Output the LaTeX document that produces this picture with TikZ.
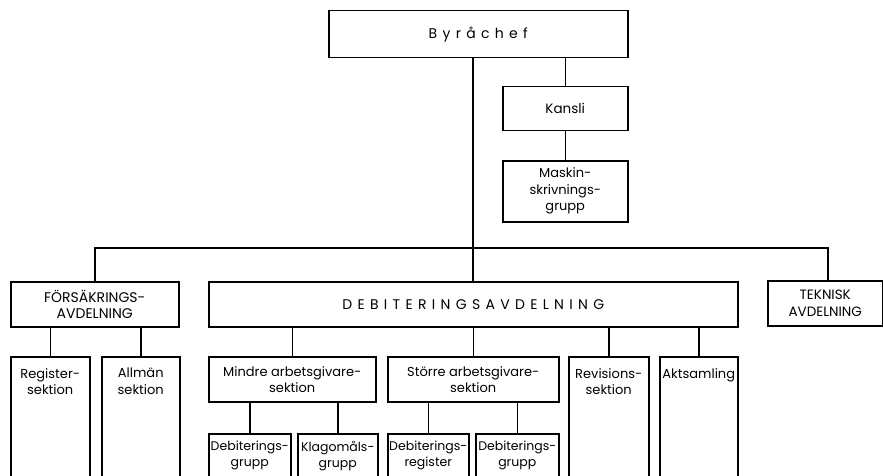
\documentclass[tikz,border=0pt]{standalone}
\usepackage{fontspec}
\setmainfont{Poppins}
\newfontfamily\spaced[LetterSpace=38]{Poppins}
\usetikzlibrary{calc}
\begin{document}
\begin{tikzpicture}[x=1pt,y=-1pt,
  box/.style={draw, line width=1.5pt, inner sep=0pt, align=center, anchor=north west,
    font=\fontsize{13}{16}\selectfont},
  toptext/.style={anchor=north, align=center, inner sep=0pt, font=\fontsize{13}{16.5}\selectfont},
  wire/.style={line width=1.5pt}]
\useasboundingbox (0,0) rectangle (883,476);
\clip (0,0) rectangle (883,476);
% top
\node[box, minimum width=299pt, minimum height=47pt, font=\fontsize{14}{16}\selectfont] (chef) at (328,10) {\spaced Byråchef};
\node[box, minimum width=125pt, minimum height=44pt, font=\fontsize{13.5}{16}\selectfont] (kansli) at (502,86) {Kansli};
\node[box, minimum width=125pt, minimum height=61pt, font=\fontsize{13}{16.5}\selectfont] (maskin) at (502,160) {Maskin-\\skrivnings-\\grupp};
% departments
\node[box, minimum width=168pt, minimum height=45pt, font=\fontsize{14}{16.5}\selectfont] (fors) at (10,281) {FÖRSÄKRINGS-\\AVDELNING};
\node[box, minimum width=529pt, minimum height=45pt, font=\fontsize{14}{16}\selectfont] (debit) at (208,281) {\spaced DEBITERINGSAVDELNING};
\node[box, minimum width=115pt, minimum height=45pt, font=\fontsize{13.5}{16.5}\selectfont] (tekn) at (767,280) {TEKNISK\\AVDELNING};
% sections
\node[box, minimum width=79pt, minimum height=140pt] (reg) at (10,356) {};
\node[toptext] (regt) at ($(reg.north)+(0,12)$) {Register-\\sektion};
\node[box, minimum width=78pt, minimum height=140pt] (allm) at (101,356) {};
\node[toptext] (allmt) at ($(allm.north)+(0,12)$) {Allmän\\sektion};
\node[box, minimum width=167pt, minimum height=45pt] (mindre) at (208,356) {Mindre arbetsgivare-\\sektion};
\node[box, minimum width=171pt, minimum height=45pt] (storre) at (387,356) {Större arbetsgivare-\\sektion};
\node[box, minimum width=80pt, minimum height=140pt] (rev) at (568,356) {};
\node[toptext] (revt) at ($(rev.north)+(0,12)$) {Revisions-\\sektion};
\node[box, minimum width=78pt, minimum height=140pt] (akt) at (659,356) {};
\node[toptext] (aktt) at ($(akt.north)+(0,12)$) {Aktsamling};
% groups
\node[box, minimum width=82pt, minimum height=80pt] (dg1) at (208,433) {};
\node[toptext, font=\fontsize{12.5}{16}\selectfont] (dg1t) at ($(dg1.north)+(0,8)$) {Debiterings-\\grupp};
\node[box, minimum width=80pt, minimum height=80pt] (klag) at (297,433) {};
\node[toptext, font=\fontsize{12.5}{16}\selectfont] (klagt) at ($(klag.north)+(0,8)$) {Klagomåls-\\grupp};
\node[box, minimum width=81pt, minimum height=80pt] (dreg) at (387,433) {};
\node[toptext, font=\fontsize{12.5}{16}\selectfont] (dregt) at ($(dreg.north)+(0,8)$) {Debiterings-\\register};
\node[box, minimum width=83pt, minimum height=80pt] (dg2) at (475,433) {};
\node[toptext, font=\fontsize{12.5}{16}\selectfont] (dg2t) at ($(dg2.north)+(0,8)$) {Debiterings-\\grupp};
% connectors
\coordinate (trunk) at (473,248);
\coordinate (teknx) at ($(tekn.north west)+(61,0)$);
\draw[wire] (chef.south -| trunk) -- (debit.north -| trunk);
\draw[wire] (fors.north) |- (trunk) -| (teknx);
\draw[wire] (kansli.north) -- (kansli.north |- chef.south);
\draw[wire] (kansli.south) -- (maskin.north);
\draw[wire] (reg.north) -- (reg.north |- fors.south);
\draw[wire] (allm.north) -- (allm.north |- fors.south);
\draw[wire] (mindre.north) -- (mindre.north |- debit.south);
\draw[wire] (storre.north) -- (storre.north |- debit.south);
\draw[wire] (rev.north) -- (rev.north |- debit.south);
\draw[wire] (akt.north) -- (akt.north |- debit.south);
\draw[wire] (dg1.north) -- (dg1.north |- mindre.south);
\draw[wire] (klag.north) -- (klag.north |- mindre.south);
\draw[wire] (dreg.north) -- (dreg.north |- storre.south);
\draw[wire] (dg2.north) -- (dg2.north |- storre.south);
\end{tikzpicture}
\end{document}
